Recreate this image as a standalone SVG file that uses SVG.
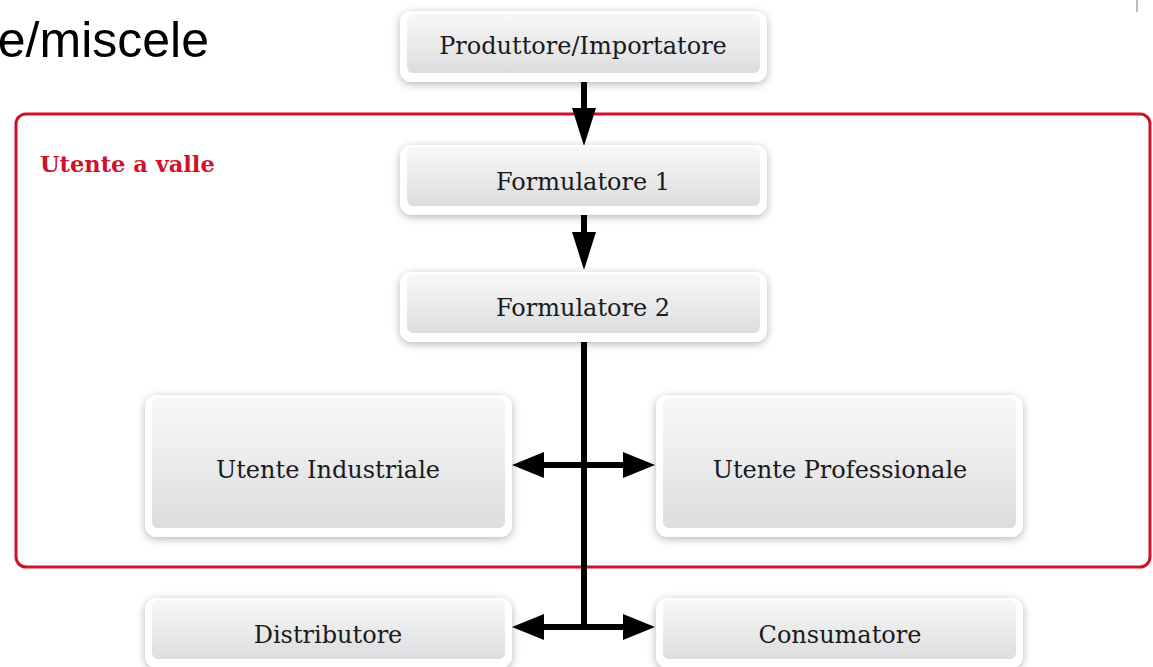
<svg xmlns="http://www.w3.org/2000/svg" width="1153" height="667" viewBox="0 0 1153 667">
<defs>
<linearGradient id="g" x1="0" y1="0" x2="0" y2="1">
<stop offset="0" stop-color="#f8f8f8"/>
<stop offset="1" stop-color="#dcdddf"/>
</linearGradient>
<filter id="sh" x="-10%" y="-20%" width="120%" height="150%">
<feDropShadow dx="0" dy="2" stdDeviation="4" flood-color="#000" flood-opacity="0.3"/>
</filter>
<marker id="ah" markerUnits="userSpaceOnUse" markerWidth="32" markerHeight="26" refX="10" refY="13" orient="auto-start-reverse" viewBox="0 0 32 26">
<path d="M0,0 L32,13 L0,26 z" fill="#000"/>
</marker>
<marker id="av" markerUnits="userSpaceOnUse" markerWidth="38" markerHeight="24" refX="10" refY="12" orient="auto" viewBox="0 0 38 24">
<path d="M0,0 L38,12 L0,24 z" fill="#000"/>
</marker>
</defs>
<style>
.outer{fill:#fff;filter:url(#sh)}
.inner{fill:url(#g)}
.lbl{font-family:"DejaVu Serif","Liberation Serif",serif;font-size:24px;fill:#1a1a1a;text-anchor:middle}
.conn{stroke:#000;stroke-width:6;fill:none}
</style>
<rect width="1153" height="667" fill="#fff"/>
<text x="209" y="57" font-family="Liberation Sans, Arial, sans-serif" font-size="50" fill="#000" text-anchor="end">e/miscele</text>
<line x1="1137" y1="0" x2="1137" y2="12" stroke="#bbb" stroke-width="2"/>
<g id="frame">
<rect x="16" y="114" width="1134" height="453" rx="10" fill="none" stroke="#d0112b" stroke-width="3"/>
<text x="40" y="172" font-family="DejaVu Serif, Liberation Serif, serif" font-weight="bold" font-size="22.5" fill="#d0112b">Utente a valle</text>
</g>
<g id="connectors">
<line class="conn" x1="584" y1="82" x2="584" y2="118" marker-end="url(#av)"/>
<line class="conn" x1="584" y1="215" x2="584" y2="242" marker-end="url(#av)"/>
<line class="conn" x1="584" y1="342" x2="584" y2="630"/>
<line class="conn" x1="534" y1="465" x2="633" y2="465" marker-start="url(#ah)" marker-end="url(#ah)"/>
<line class="conn" x1="534" y1="627" x2="633" y2="627" marker-start="url(#ah)" marker-end="url(#ah)"/>
</g>
<g id="produttore">
<rect class="outer" x="400" y="11" width="367" height="71" rx="12"/>
<rect class="inner" x="407" y="14" width="353" height="59" rx="6"/>
<text class="lbl" x="583" y="54">Produttore/Importatore</text>
</g>
<g id="formulatore1">
<rect class="outer" x="400" y="145" width="367" height="70" rx="12"/>
<rect class="inner" x="407" y="147" width="353" height="59" rx="6"/>
<text class="lbl" x="583" y="190">Formulatore 1</text>
</g>
<g id="formulatore2">
<rect class="outer" x="400" y="272" width="367" height="70" rx="12"/>
<rect class="inner" x="407" y="274" width="353" height="59" rx="6"/>
<text class="lbl" x="583" y="316">Formulatore 2</text>
</g>
<g id="industriale">
<rect class="outer" x="145" y="395" width="367" height="142" rx="12"/>
<rect class="inner" x="152" y="398" width="353" height="130" rx="6"/>
<text class="lbl" x="328" y="478">Utente Industriale</text>
</g>
<g id="professionale">
<rect class="outer" x="656" y="395" width="367" height="142" rx="12"/>
<rect class="inner" x="663" y="398" width="353" height="130" rx="6"/>
<text class="lbl" x="840" y="478">Utente Professionale</text>
</g>
<g id="distributore">
<rect class="outer" x="145" y="598" width="367" height="70" rx="12"/>
<rect class="inner" x="152" y="600" width="353" height="59" rx="6"/>
<text class="lbl" x="328" y="643">Distributore</text>
</g>
<g id="consumatore">
<rect class="outer" x="656" y="598" width="367" height="70" rx="12"/>
<rect class="inner" x="663" y="600" width="353" height="59" rx="6"/>
<text class="lbl" x="840" y="643">Consumatore</text>
</g>
</svg>
